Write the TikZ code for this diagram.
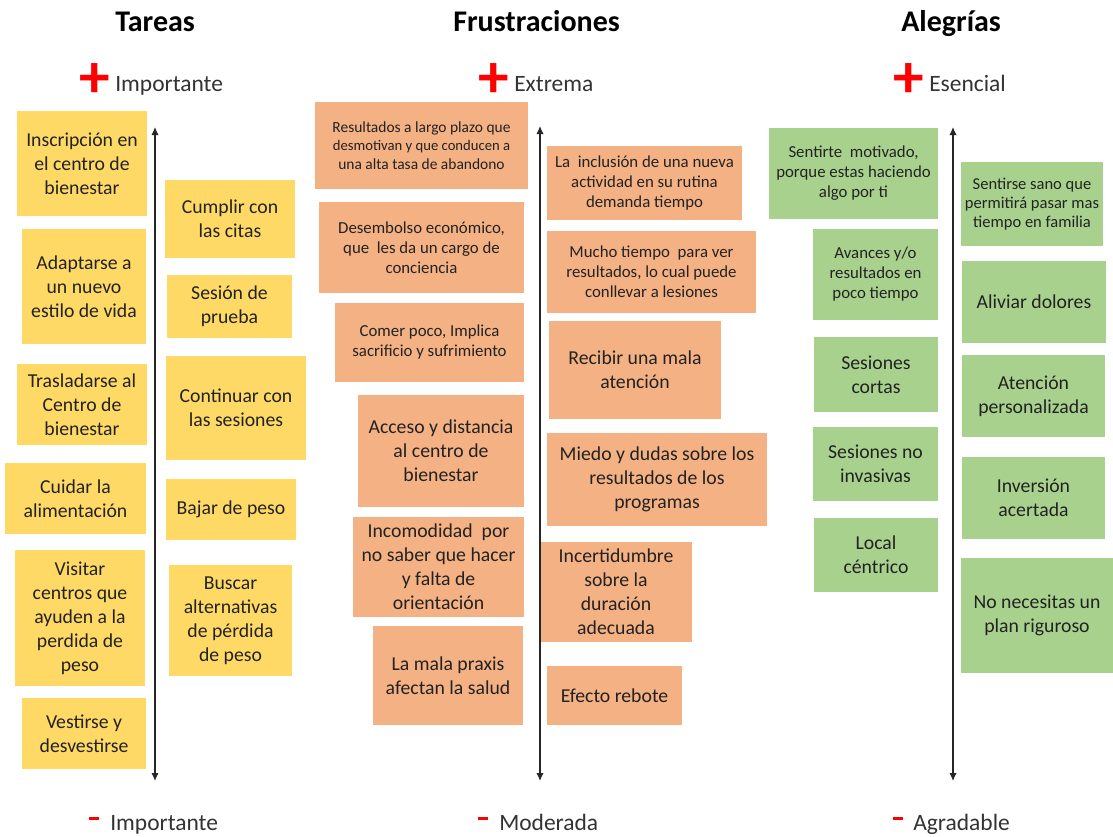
\documentclass[tikz,border=0pt]{standalone}
\usepackage{fontspec}
\setmainfont{Carlito}
\usetikzlibrary{arrows.meta}

\definecolor{yel}{HTML}{FFD966}
\definecolor{org}{HTML}{F4B183}
\definecolor{grn}{HTML}{A9D18E}
\definecolor{ink}{HTML}{222222}
\definecolor{labelink}{HTML}{333333}
\definecolor{signred}{HTML}{FF0000}

\tikzset{
  note/.style={inner sep=0pt, align=center, text=ink,
               font=\fontsize{14.8}{18}\selectfont},
  tarea/.style={note, fill=yel},
  frus/.style={note, fill=org},
  aleg/.style={note, fill=grn},
  txtS/.style={font=\fontsize{12.6}{15}\selectfont},
  txtXS/.style={font=\fontsize{11.6}{13.9}\selectfont},
  txtA/.style={font=\fontsize{12.4}{14.3}\selectfont},
  headtext/.style={anchor=base west, inner sep=0pt, text=black,
                   font=\fontsize{22.5}{27}\selectfont\bfseries},
  leveltext/.style={anchor=base west, inner sep=0pt, text=labelink,
                    font=\fontsize{17.6}{21}\selectfont},
  plussign/.style={inner sep=0pt, text=signred,
                   font=\fontsize{46}{46}\selectfont\bfseries},
  minusbar/.style={rectangle, inner sep=0pt, fill=signred,
                   minimum width=7.5pt, minimum height=2.6pt},
  axisline/.style={{Latex[length=6pt,width=5.5pt]}-{Latex[length=6pt,width=5.5pt]},
                   line width=0.9pt, draw=black!85}
}

% \postit{name}{style}{x1}{y1}{x2}{y2}{text}: a sticky note filling the given box
\newcommand{\postit}[7]{%
  \pgfmathsetmacro\notew{(#5-#3)*0.75}%
  \pgfmathsetmacro\noteh{(#6-#4)*0.75}%
  \node[#2, minimum width=\notew pt, minimum height=\noteh pt]
    (#1) at ({(#3+#5)/2},{(#4+#6)/2}) {#7};%
}

\begin{document}
\begin{tikzpicture}[x=0.75pt, y=-0.75pt]
\useasboundingbox (0,0) rectangle (1113,836);
\fill[white] (0,0) rectangle (1113,836);

% column headings
\node[headtext] (hT) at (115,31) {Tareas};
\node[headtext] (hF) at (453,31) {Frustraciones};
\node[headtext] (hA) at (901,31) {Alegrías};

% upper ends of the scales
\node[plussign] (pT) at (95,81) {+};
\node[leveltext] (lT) at (115,91) {Importante};
\node[plussign] (pF) at (494,81) {+};
\node[leveltext] (lF) at (514,91) {Extrema};
\node[plussign] (pA) at (909,81) {+};
\node[leveltext] (lA) at (929,91) {Esencial};

% lower ends of the scales
\node[minusbar] (mT) at (94,818.5) {};
\node[leveltext] (bT) at (110,830) {Importante};
\node[minusbar] (mF) at (483,818.5) {};
\node[leveltext] (bF) at (499,830) {Moderada};
\node[minusbar] (mA) at (898,818.5) {};
\node[leveltext] (bA) at (913,830) {Agradable};

% Tareas
\postit{t1}{tarea}{17}{111}{147}{216}{Inscripción en\\el centro de\\bienestar}
\postit{t2}{tarea}{22}{229}{146}{344}{Adaptarse a\\un nuevo\\estilo de vida}
\postit{t3}{tarea}{17}{364}{147}{445}{Trasladarse al\\Centro de\\bienestar}
\postit{t4}{tarea}{5}{463}{146}{534}{Cuidar la\\alimentación}
\postit{t5}{tarea}{15}{550}{145}{686}{Visitar\\centros que\\ayuden a la\\perdida de\\peso}
\postit{t6}{tarea}{22}{698}{146}{769}{Vestirse y\\desvestirse}
\postit{t7}{tarea}{165}{180}{295}{258}{Cumplir con\\las citas}
\postit{t8}{tarea}{167}{275}{292}{338}{Sesión de\\prueba}
\postit{t9}{tarea}{166}{356}{306}{460}{Continuar con\\las sesiones}
\postit{t10}{tarea}{166}{479}{296}{540}{Bajar de peso}
\postit{t11}{tarea}{169}{565}{292}{676}{Buscar\\alternativas\\de pérdida\\de peso}

% Frustraciones
\postit{f1}{frus,txtXS}{315}{102}{528}{189}{Resultados a largo plazo que\\{\fontsize{11}{13.9}\selectfont desmotivan y que conducen a}\\una alta tasa de abandono}
\postit{f2}{frus,txtS}{319}{202}{524}{293}{Desembolso económico,\\que\ \ les da un cargo de\\conciencia}
\postit{f3}{frus,txtS}{335}{303}{524}{382}{Comer poco, Implica\\sacrificio y sufrimiento}
\postit{f4}{frus}{358}{395}{524}{507}{Acceso y distancia\\al centro de\\bienestar}
\postit{f5}{frus}{353}{517}{524}{617}{Incomodidad\ \ por\\no saber que hacer\\y falta de\\orientación}
\postit{f6}{frus}{373}{626}{523}{725}{La mala praxis\\afectan la salud}
\postit{f7}{frus,txtS}{547}{146}{742}{220}{La\ \ inclusión de una nueva\\actividad en su rutina\\demanda tiempo}
\postit{f8}{frus,txtS}{547}{231}{756}{313}{Mucho tiempo\ \ para ver\\resultados, lo cual puede\\conllevar a lesiones}
\postit{f9}{frus}{549}{321}{721}{419}{Recibir una mala\\atención}
\postit{f10}{frus}{547}{433}{767}{526}{Miedo y dudas sobre los\\resultados de los\\programas}
\postit{f11}{frus}{540}{542}{692}{642}{Incertidumbre\\sobre la\\duración\\adecuada}
\postit{f12}{frus}{547}{666}{682}{725}{Efecto rebote}

% Alegrías
\postit{a1}{aleg,txtS}{769}{128}{938}{219}{Sentirte\ \ motivado,\\porque estas haciendo\\algo por ti}
\postit{a2}{aleg,txtS}{813}{229}{938}{320}{Avances y/o\\resultados en\\poco tiempo}
\postit{a3}{aleg}{814}{337}{938}{412}{Sesiones\\cortas}
\postit{a4}{aleg}{813}{427}{938}{501}{Sesiones no\\invasivas}
\postit{a5}{aleg}{814}{518}{938}{592}{Local\\céntrico}
\postit{a6}{aleg,txtA}{961}{162}{1103}{246}{Sentirse sano que\\permitirá pasar mas\\tiempo en familia}
\postit{a7}{aleg}{962}{261}{1106}{343}{Aliviar dolores}
\postit{a8}{aleg}{962}{355}{1105}{437}{Atención\\personalizada}
\postit{a9}{aleg}{962}{457}{1105}{539}{Inversión\\acertada}
\postit{a10}{aleg}{961}{558}{1113}{673}{No necesitas un\\plan riguroso}

% importance scales
\coordinate (tTop) at (155,127);
\coordinate (tBot) at (155,781);
\coordinate (fTop) at (540,126);
\coordinate (fBot) at (540,781);
\coordinate (aTop) at (953,127);
\coordinate (aBot) at (953,781);
\draw[axisline] (tTop) -- (tBot);
\draw[axisline] (fTop) -- (fBot);
\draw[axisline] (aTop) -- (aBot);
\end{tikzpicture}
\end{document}
